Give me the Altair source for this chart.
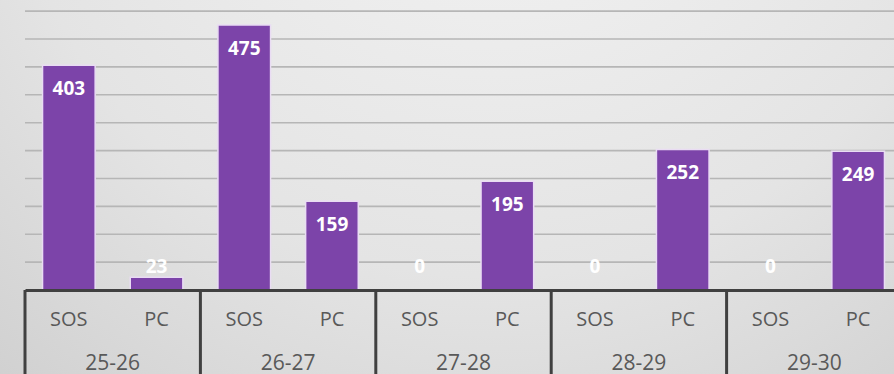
import altair as alt
import pandas as pd

# School years and the two counts per year
groups = ["25-26", "26-27", "27-28", "28-29", "29-30"]
kinds = ["SOS", "PC"]
sos_counts = [403, 475, 0, 0, 0]
pc_counts = [23, 159, 195, 252, 249]
grid_values = [50, 100, 150, 200, 250, 300, 350, 400, 450, 500]

rows = []
for g, s, p in zip(groups, sos_counts, pc_counts):
    rows.append({"group": g, "kind": "SOS", "value": s})
    rows.append({"group": g, "kind": "PC", "value": p})
df = pd.DataFrame(rows)

FONT = "Open Sans"
BAR = "#7C44A9"

x_enc = alt.X("group:N", sort=groups,
              scale=alt.Scale(range=[0, 877], paddingInner=0, paddingOuter=0),
              axis=alt.Axis(title=None, ticks=False, labelAngle=0, zindex=1,
                            labelFont=FONT, labelFontSize=21, labelColor="#595959",
                            labelPadding=73, labelBaseline="middle",
                            domainColor="#404040", domainWidth=3))
xoff = alt.XOffset("kind:N", sort=kinds,
                   scale=alt.Scale(paddingInner=0.4, paddingOuter=0.2))
y_scale = alt.Scale(domain=[0, 520], nice=False)

# soft grey backdrop behind everything
backdrop = alt.Chart(alt.Data(values=[{"k": 1}])).mark_rect(
    color=alt.Gradient(
        gradient="radial",
        x1=0.55, y1=0.05, r1=0,
        x2=0.55, y2=0.05, r2=1.0,
        stops=[
            alt.GradientStop(offset=0, color="#f5f5f5"),
            alt.GradientStop(offset=0.55, color="#e4e4e4"),
            alt.GradientStop(offset=1, color="#c8c8c8"),
        ],
    )
).encode(
    x=alt.value(-25), x2=alt.value(869), y=alt.value(0), y2=alt.value(374)
)

# horizontal gridlines
grid = alt.Chart(pd.DataFrame({"g": grid_values})).mark_rule(
    color="#b6b6b6", strokeWidth=1.6
).encode(
    y=alt.Y("g:Q", scale=y_scale,
            axis=alt.Axis(title=None, labels=False, ticks=False, domain=False, grid=False)),
    x=alt.value(0), x2=alt.value(869),
)

bars = alt.Chart(df).transform_filter("datum.value > 0").mark_bar(
    color=BAR, stroke="#e9dcf3", strokeWidth=1.5
).encode(
    x=x_enc,
    xOffset=xoff,
    y=alt.Y("value:Q", scale=y_scale),
)

labels = alt.Chart(df).transform_calculate(
    pos="max(datum.value - 43, 41)"
).mark_text(
    color="white", font=FONT, fontSize=19, fontWeight="bold", baseline="middle"
).encode(
    x=alt.X("group:N", sort=groups),
    xOffset=xoff,
    y=alt.Y("pos:Q", scale=y_scale),
    text=alt.Text("value:Q"),
)

kind_labels = alt.Chart(df).mark_text(
    color="#595959", font=FONT, fontSize=20, baseline="middle"
).encode(
    x=alt.X("group:N", sort=groups),
    xOffset=xoff,
    y=alt.value(320),
    text="kind:N",
)

seps = alt.Chart(pd.DataFrame({"group": groups})).mark_rule(
    color="#404040", strokeWidth=3
).encode(
    x=alt.X("group:N", sort=groups, bandPosition=0),
    y=alt.value(290),
    y2=alt.value(380),
)

chart = alt.layer(backdrop, grid, bars, labels, kind_labels, seps).properties(
    width=869, height=290,
    autosize=alt.AutoSizeParams(type="none"),
    padding={"left": 25, "top": 0, "right": 0, "bottom": 84},
    background="#d8d8d8",
).configure_view(stroke=None)

chart.save("out.html", embed_options={"renderer": "svg", "actions": False})
